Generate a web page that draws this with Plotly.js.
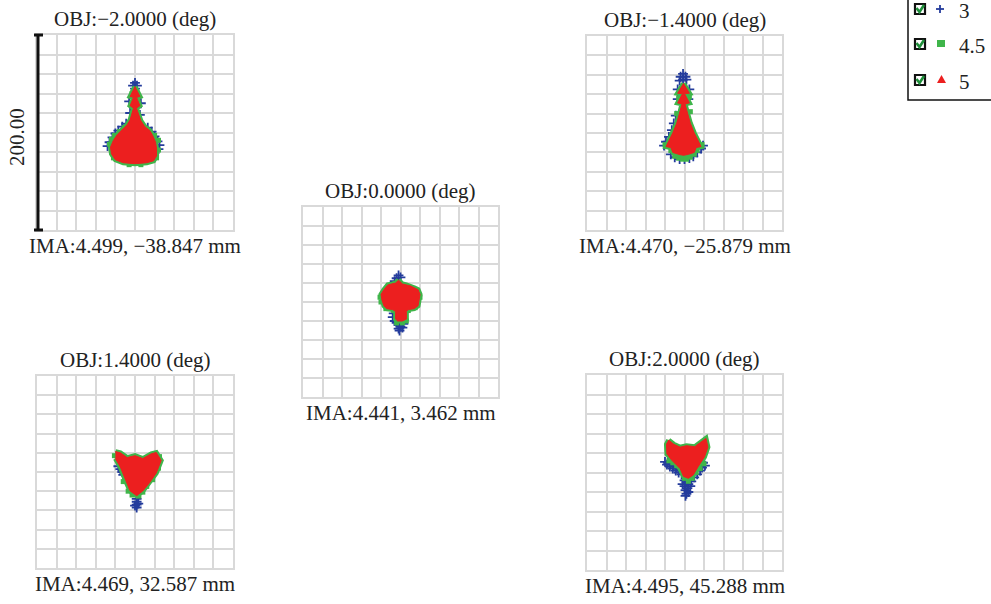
<!DOCTYPE html>
<html><head><meta charset="utf-8">
<script src="https://cdn.plot.ly/plotly-3.0.1.min.js"></script>
<style>html,body{margin:0;padding:0;background:#fff}#chart{width:991px;height:604px}</style>
</head><body><div id="chart"></div>
<script>
// ---------- data (offsets in micrometres from each panel centre) ----------
const objTitles = ["OBJ:\u22122.0000 (deg)", "OBJ:\u22121.4000 (deg)", "OBJ:0.0000 (deg)", "OBJ:1.4000 (deg)", "OBJ:2.0000 (deg)"];
const imaLabels = ["IMA:4.499, \u221238.847 mm", "IMA:4.470, \u221225.879 mm", "IMA:4.441, 3.462 mm", "IMA:4.469, 32.587 mm", "IMA:4.495, 45.288 mm"];
const wavelengths = ["3", "4.5", "5"];
const scaleLabel = "200.00";

const p1RedX = [0,5,1.5,5,1.5,3,6,10,15,18,21,22,22,19,12,0,-12,-20,-24,-25,-22,-18,-13,-8,-5,-3,-1.5,-5,-1.5,-5,0];
const p1RedY = [47,37,36,27.5,25,20,12,6,2,-3,-10,-17,-24,-29,-31,-32,-31,-28,-22,-15,-8,-2,3,8,13,20,25,27.5,36,37,47];
const p1BlueX = [0,-2,2,0,0,-6,6,-5,5,-28,-26,-23,-20,-17,-13,-9,13,17,20,23,25,24];
const p1BlueY = [51,48,48,45,42,32,30,20,18,-14,-10,-5,-1,2,6,9,5,1,-4,-9,-13,-17];
const p1GreenX = [-26,-24,-21,-16,-11,24,24,22,-6,6,-3,3,-22,20];
const p1GreenY = [-12,-7,-3,1,5,-8,-18,-26,-33,-33,40,34,-26,-3];

const p2RedX = [-1,5,0,5,0.5,3,6,10,14,17,12,10,4,-1,-6,-12,-14,-19,-16,-12,-8,-5,-2.5,-7,-2,-7,-1];
const p2RedY = [51,41,40.5,31,30,20,10,0,-8,-14,-15,-20,-22,-23,-22,-20,-15,-14,-8,0,10,20,30,31,40.5,41,51];
const p2BlueX = [-1.5,-4,1,-1.5,-5,2,-7,5,-7,4,-9,-11,-13,-16,-19,-21,-14,-10,-5,0,5,9,13,17,19];
const p2BlueY = [61,58,58,55,54,55,45,45,35,35,18,10,3,-4,-9,-13,-22,-25,-27,-27,-26,-24,-20,-16,-13];
const p2GreenX = [-10,-6,-2,2,6,10,13,-14,-6,5,-8,6,-20,18];
const p2GreenY = [-24,-26,-27,-27,-25,-22,-18,-18,36,37,20,22,-12,-12];

const p3RedX = [-2,2,6,10,14,18,20,19,18,14,8,6,6,2,-3,-5,-5,-8,-14,-17,-19,-20,-17,-13,-8,-5,-2];
const p3RedY = [23,19,18,17,15,13,8,2,-4,-7,-8,-10,-18,-20,-20,-18,-10,-8,-7,-4,2,8,13,18,19,20,23];
const p3BlueX = [-4,-2,0,-6,-7,-8,-6,-2,0,-2,-1,2,3,-4];
const p3BlueY = [25,28,26,22,-12,-16,-20,-24,-26,-28,-30,-27,-23,-22];
const p3GreenX = [2,6,-4,-21,-20,-7,8,20,-15,15];
const p3GreenY = [-22,-20,-22,5,0,-9,-9,5,-7,-6];

const p4RedX = [-20,-15,-8,0,8,16.7,21.7,26.7,21.7,15,8,1.7,-5,-10,-15,-20];
const p4RedY = [21.3,20,15,17,14,19,20.3,12,-1,-11,-19.7,-24.7,-19.7,-8,5.3,14];
const p4BlueX = [1.7,1.7,1.7,1.7,0,3.4,-15,-13,-12,-17];
const p4BlueY = [-28,-31,-34,-37,-35,-33,3,0,-3,6];
const p4GreenX = [-7,8,4,-3,24,18,-21,25,-12,12];
const p4GreenY = [-20,-21,-25,-24,4,-8,17,16,-10,-15];

const p5RedX = [-16.2,-11,-4.5,2,10.5,17,22,24,20.5,14,9,4,-1,-4.5,-13,-18,-18.5,-16.2];
const p5RedY = [33.2,29,26,27.5,26.5,31,35,26,16,6,-2.5,-6,-4,4,12.5,19,29,33.2];
const p5BlueX = [-20,-17,-14,-11,-8,-5,-18,-15,-12,-9,-6,-3,0,2,4,0,3,1,4,2,1,6,-2,7,19,21,18,16,13,10];
const p5BlueY = [11,10,9,7,5,3,8,6,4,2,0,-2,-8,-10,-12,-14,-16,-18,-20,-22,-24,-14,-12,-9,10,7,5,2,-2,-5];
const p5GreenX = [-16,-12,-8,-4,0,4,8,12,16,20];
const p5GreenY = [12,10,7,4,-6,-9,-6,0,4,9];

// ---------- layout ----------
const W = 991, H = 604;
const PX = v => v / W, PY = v => 1 - v / H;
const RED = '#ec1f1f', GREEN = '#3fb54a', BLUE = '#243c9c', GRID = '#d9d9d9';
const FONT = 'Liberation Serif, Times New Roman, serif';
const panels = [
  {x0:37, x1:233, y0:35, y1:230, red:[p1RedX,p1RedY], blue:[p1BlueX,p1BlueY], green:[p1GreenX,p1GreenY]},
  {x0:587, x1:782, y0:36, y1:230, red:[p2RedX,p2RedY], blue:[p2BlueX,p2BlueY], green:[p2GreenX,p2GreenY]},
  {x0:303, x1:498, y0:207, y1:397, red:[p3RedX,p3RedY], blue:[p3BlueX,p3BlueY], green:[p3GreenX,p3GreenY]},
  {x0:37, x1:233, y0:376, y1:568, red:[p4RedX,p4RedY], blue:[p4BlueX,p4BlueY], green:[p4GreenX,p4GreenY]},
  {x0:587, x1:782, y0:375, y1:570, red:[p5RedX,p5RedY], blue:[p5BlueX,p5BlueY], green:[p5GreenX,p5GreenY]}
];

const traces = [];
const layout = {
  width: W, height: H, margin: {l:0, r:0, t:0, b:0},
  paper_bgcolor: '#fff', plot_bgcolor: 'rgba(0,0,0,0)', showlegend: false,
  font: {family: FONT, size: 21, color: '#222'},
  shapes: [], annotations: []
};
function txt(x, y, text, extra) {
  layout.annotations.push(Object.assign({xref:'paper', yref:'paper', x:PX(x), y:PY(y), text:text, showarrow:false,
    xanchor:'center', yanchor:'middle', font:{family:FONT, size:21, color:'#222'}}, extra || {}));
}
function line(x0, y0, x1, y1, color, width) {
  layout.shapes.push({type:'line', xref:'paper', yref:'paper', x0:PX(x0), x1:PX(x1), y0:PY(y0), y1:PY(y1), line:{color:color, width:width}});
}
function path(pts, opts) {
  const d = pts.map((p, k) => (k ? 'L ' : 'M ') + PX(p[0]).toFixed(5) + ' ' + PY(p[1]).toFixed(5)).join(' ') + (opts.closed ? ' Z' : '');
  layout.shapes.push(Object.assign({type:'path', xref:'paper', yref:'paper', path:d}, opts.style));
}

panels.forEach((p, i) => {
  const n = i + 1, sx = n === 1 ? '' : String(n);
  const ax = {
    range: [-100, 100], tick0: 0, dtick: 20, showgrid: true, gridcolor: GRID, gridwidth: 2,
    zeroline: false, showline: true, mirror: true, linecolor: GRID, linewidth: 2,
    showticklabels: false, ticks: '', fixedrange: true
  };
  layout['xaxis' + sx] = Object.assign({}, ax, {domain: [PX(p.x0), PX(p.x1)], anchor: 'y' + sx});
  layout['yaxis' + sx] = Object.assign({}, ax, {domain: [PY(p.y1), PY(p.y0)], anchor: 'x' + sx});
  const xa = 'x' + sx, ya = 'y' + sx;
  // wavelength 3 : blue crosses
  traces.push({type:'scatter', mode:'markers', x:p.blue[0], y:p.blue[1], xaxis:xa, yaxis:ya,
    marker:{symbol:'cross-thin', size:7, line:{color:BLUE, width:1.8}}, hoverinfo:'skip'});
  // wavelength 4.5 : green rim
  traces.push({type:'scatter', mode:'lines', x:p.red[0], y:p.red[1], xaxis:xa, yaxis:ya, fill:'toself',
    fillcolor:GREEN, line:{color:GREEN, width:5}, hoverinfo:'skip'});
  traces.push({type:'scatter', mode:'markers', x:p.green[0], y:p.green[1], xaxis:xa, yaxis:ya,
    marker:{symbol:'square', size:5, color:GREEN}, hoverinfo:'skip'});
  // wavelength 5 : red core
  traces.push({type:'scatter', mode:'lines', x:p.red[0], y:p.red[1], xaxis:xa, yaxis:ya, fill:'toself',
    fillcolor:RED, line:{color:RED, width:1}, hoverinfo:'skip'});
  const cx = (p.x0 + p.x1) / 2;
  txt(cx, p.y0 - 16, objTitles[i]);
  txt(cx, p.y1 + 16, imaLabels[i]);
});

// scale bar (200 µm = panel height)
line(38, 35, 38, 230, '#111', 3);
line(34, 35, 43, 35, '#111', 3);
line(34, 230, 43, 230, '#111', 3);
txt(17, 137, scaleLabel, {textangle:-90});

// legend box
path([[1000,-10],[908,-10],[908,100],[1000,100]], {closed:false, style:{line:{color:'#111', width:1.5}}});
const rowsY = [9, 44, 80];
rowsY.forEach((yy, k) => {
  path([[915,yy-5],[925,yy-5],[925,yy+5],[915,yy+5]], {closed:true, style:{line:{color:'#111', width:2.2}}});
  path([[916.5,yy-1],[919.5,yy+3],[924,yy-4]], {closed:false, style:{line:{color:'#1f8f3a', width:2.6}}});
  txt(957, yy + 2, wavelengths[k], {xanchor:'left'});
});
// legend symbols
line(936, 9, 944, 9, BLUE, 1.8);
line(940, 5, 940, 13, BLUE, 1.8);
path([[937,40],[945,40],[945,47],[937,47]], {closed:true, style:{fillcolor:GREEN, line:{width:0}}});
path([[937,83],[946,83],[941.5,75]], {closed:true, style:{fillcolor:RED, line:{width:0}}});

Plotly.newPlot('chart', traces, layout, {staticPlot:true, displayModeBar:false});
</script>
</body></html>
